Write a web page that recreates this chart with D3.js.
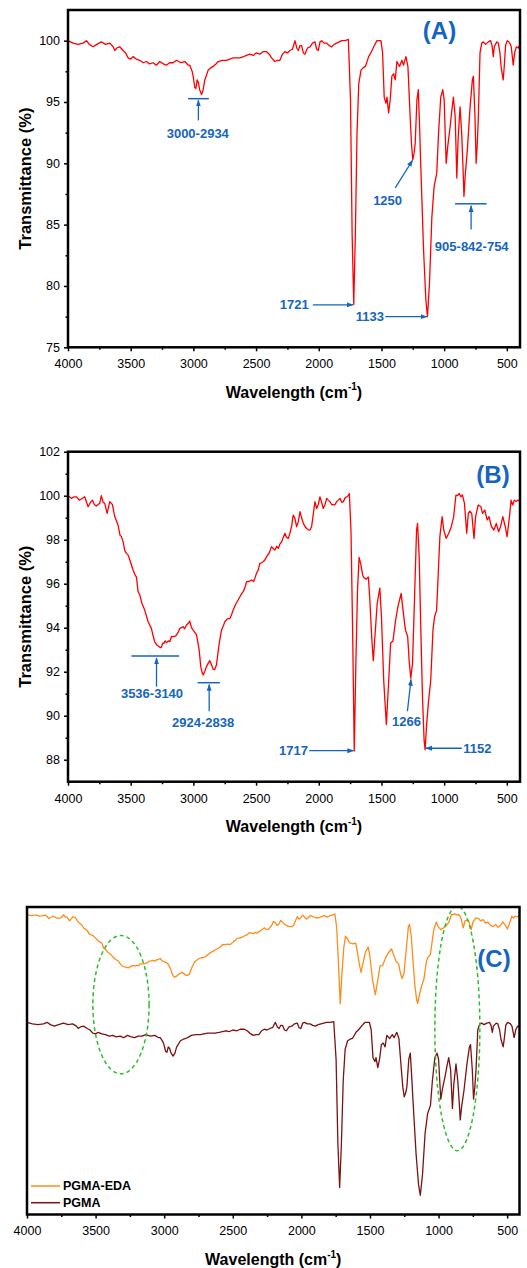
<!DOCTYPE html>
<html>
<head>
<meta charset="utf-8">
<script src="https://cdn.jsdelivr.net/npm/d3@7"></script>
<style>
  body { margin: 0; background: #fff; }
  text { font-family: "Liberation Sans", Arial, sans-serif; }
</style>
</head>
<body>
<div id="chart"></div>
<script>
// PGMA spectrum, [wavenumber cm-1, transmittance %]
var pgmaPoints = [
  [4000,100],[3960,99.8],[3920,99.7],[3880,99.8],[3853,100],[3830,99.7],[3800,99.5],[3770,99.7],
  [3734,99.9],[3700,99.7],[3667,99.8],[3640,99.5],[3627,99.2],[3610,99.4],[3588,99.5],[3561,99.2],
  [3540,99.0],[3521,98.6],[3500,98.5],[3481,98.7],[3455,98.5],[3428,98.4],[3400,98.2],[3375,98.3],
  [3350,98.1],[3321,98.2],[3295,98.0],[3268,98.3],[3240,98.1],[3215,98.0],[3190,98.2],[3162,98.2],
  [3135,98.4],[3100,98.2],[3068,98.3],[3040,98.0],[3029,98.0],[3010,97.5],[3002,97.1],[2989,96.2],
  [2980,96.1],[2970,96.8],[2960,96.6],[2950,96.0],[2935,95.6],[2922,96.0],[2909,96.8],[2895,97.2],
  [2882,97.6],[2860,97.8],[2842,97.9],[2820,98.1],[2802,98.3],[2770,98.4],[2736,98.4],[2710,98.5],
  [2683,98.6],[2655,98.6],[2629,98.6],[2600,98.7],[2576,98.8],[2550,98.9],[2523,98.8],[2500,99.0],
  [2470,98.9],[2445,99.1],[2416,99.1],[2395,98.9],[2377,98.6],[2350,98.3],[2330,98.4],[2310,98.4],
  [2290,98.9],[2270,99.1],[2250,99.0],[2230,99.2],[2210,99.3],[2190,100.0],[2175,99.4],[2163,99.2],
  [2150,99.6],[2137,99.6],[2123,99.0],[2110,98.9],[2090,99.4],[2070,99.5],[2050,99.8],[2030,99.9],
  [2017,99.3],[2004,99.2],[1990,99.9],[1977,100.0],[1957,99.8],[1937,99.8],[1917,99.6],[1897,99.5],
  [1877,99.7],[1857,99.8],[1837,99.9],[1817,100.0],[1790,100.0],[1764,100.1],[1747,95.2],[1734,84.3],
  [1721,78.5],[1708,84.3],[1695,92.4],[1681,96.5],[1663,97.6],[1645,97.8],[1628,97.9],[1602,98.7],
  [1580,99.1],[1562,99.5],[1536,100.0],[1504,100.0],[1491,99.0],[1478,95.4],[1464,94.9],[1456,95.4],
  [1443,94.1],[1430,95.2],[1417,97.1],[1403,97.3],[1390,96.8],[1377,98.3],[1356,97.9],[1337,98.4],
  [1324,98.0],[1305,98.7],[1289,97.9],[1271,93.8],[1260,91.5],[1250,90.3],[1240,90.8],[1231,91.6],
  [1217,95.2],[1206,96.0],[1196,93.0],[1186,89.7],[1164,82.9],[1146,78.9],[1133,77.5],[1117,80.2],
  [1098,85.6],[1080,88.1],[1059,89.2],[1045,92.4],[1027,95.4],[1011,96.0],[1000,95.2],[984,90.0],
  [971,91.4],[952,93.0],[939,94.3],[926,95.4],[912,93.8],[899,88.8],[889,91.9],[873,94.6],
  [860,92.4],[849,89.5],[842,87.3],[832,89.0],[815,91.1],[793,94.6],[775,96.8],[767,97.1],
  [754,93.8],[745,90.0],[736,91.5],[727,93.8],[714,99.0],[700,99.8],[687,99.9],[668,99.7],
  [648,99.9],[629,100.0],[618,99.6],[608,98.7],[600,99.5],[595,99.6],[580,99.9],[568,99.8],
  [555,99.0],[545,97.8],[529,96.8],[520,98.0],[510,99.6],[497,100.0],[485,99.9],[476,99.8],
  [465,99.5],[455,98.6],[449,98.0],[440,98.8],[436,99.1],[423,99.5],[410,99.4],[400,99.6],[395,99.5]
];

// PGMA-EDA spectrum, [wavenumber cm-1, transmittance %]
var edaPoints = [
  [4000,100],[3973,99.88],[3950,99.95],[3933,99.95],[3910,99.8],[3893,99.85],[3867,99.95],[3840,99.5],
  [3820,99.7],[3806,99.8],[3790,99.6],[3774,99.53],[3760,99.6],[3747,99.65],[3734,100.0],[3720,99.7],
  [3707,99.65],[3688,99.2],[3667,99.73],[3646,99.6],[3627,99.05],[3601,98.67],[3585,98.2],[3574,98.14],
  [3560,97.9],[3547,97.5],[3534,97.38],[3520,97.3],[3507,97.08],[3481,96.62],[3465,96.4],[3454,96.3],
  [3441,95.64],[3428,95.5],[3410,95.1],[3388,94.8],[3361,94.27],[3335,93.97],[3320,93.6],[3308,93.36],
  [3290,93.2],[3281,93.17],[3265,93.1],[3255,93.11],[3245,93.3],[3236,93.29],[3225,93.4],[3215,93.32],
  [3200,93.4],[3188,93.36],[3175,93.6],[3162,93.59],[3150,93.6],[3135,93.67],[3120,93.8],[3108,93.97],
  [3095,94.0],[3082,94.05],[3070,93.95],[3055,94.12],[3040,94.2],[3029,94.3],[3015,94.0],[3002,93.89],
  [2990,93.8],[2975,93.67],[2960,93.2],[2954,92.98],[2941,92.23],[2930,91.95],[2922,91.85],[2910,92.0],
  [2896,92.23],[2880,92.4],[2869,92.5],[2855,92.3],[2842,92.11],[2830,92.1],[2816,92.3],[2805,92.8],
  [2794,93.29],[2776,93.89],[2760,94.1],[2749,94.27],[2730,94.4],[2709,94.42],[2695,94.6],[2683,94.8],
  [2660,95.1],[2643,95.26],[2620,95.5],[2603,95.64],[2590,95.8],[2576,96.09],[2556,96.1],[2536,96.17],
  [2520,96.1],[2510,96.24],[2495,96.5],[2483,96.62],[2470,96.92],[2456,96.95],[2443,97.0],[2430,97.08],
  [2416,97.23],[2395,97.4],[2377,97.68],[2363,97.6],[2350,97.53],[2335,97.7],[2323,97.6],[2310,97.8],
  [2297,97.9],[2283,98.1],[2270,98.29],[2257,98.1],[2243,98.06],[2230,98.3],[2217,98.59],[2204,99.12],
  [2190,98.97],[2177,98.59],[2163,98.82],[2150,99.27],[2137,99.0],[2123,98.74],[2110,98.6],[2097,98.51],
  [2083,98.45],[2070,98.44],[2057,98.59],[2043,99.2],[2030,99.73],[2017,99.42],[2004,99.6],[1991,99.95],
  [1977,99.7],[1964,99.42],[1950,99.6],[1937,99.88],[1924,99.8],[1911,99.73],[1897,99.6],[1884,99.58],
  [1870,99.6],[1857,99.73],[1844,99.8],[1831,99.88],[1817,99.7],[1804,99.73],[1790,99.9],[1777,99.95],
  [1765,100.0],[1756,100.1],[1743,98.4],[1730,93.9],[1717,88.4],[1704,92.4],[1691,95.7],[1678,97.2],
  [1665,96.9],[1650,96.4],[1644,96.3],[1623,96.2],[1604,96.3],[1591,95.1],[1578,93.6],[1565,92.5],
  [1552,93.6],[1534,95.1],[1513,95.8],[1500,94.5],[1482,91.6],[1461,89.6],[1442,91.6],[1427,93.3],
  [1408,93.4],[1387,94.35],[1369,94.95],[1343,95.56],[1325,94.65],[1309,93.9],[1291,93.6],[1278,92.4],
  [1266,91.7],[1252,92.4],[1236,95.4],[1220,98.44],[1212,98.74],[1199,97.23],[1186,93.9],[1173,90.9],
  [1160,88.9],[1152,88.45],[1139,89.65],[1126,90.56],[1107,91.6],[1089,93.9],[1076,94.5],[1060,94.8],
  [1047,96.47],[1034,98.14],[1016,99.05],[1003,98.44],[984,98.06],[963,98.29],[943,98.59],[924,99.05],
  [906,100.03],[893,100.0],[880,100.1],[867,99.95],[854,100.03],[838,99.65],[820,98.29],[807,99.2],
  [795,99.3],[780,99.2],[762,98.06],[749,99.05],[728,99.58],[707,99.5],[694,99.2],[676,99.35],
  [657,98.9],[642,99.05],[623,98.6],[603,98.44],[584,98.74],[566,98.36],[550,98.59],[532,99.05],
  [513,98.6],[498,98.14],[479,99.05],[466,99.8],[453,99.58],[440,99.8],[427,99.73],[414,99.8],[400,99.75]
];

// vertical shift of PGMA-EDA in panel (C)
var edaOffset = 14;

var xTicks = [4000, 3500, 3000, 2500, 2000, 1500, 1000, 500];
var xMinor = [3750, 3250, 2750, 2250, 1750, 1250, 750];
var yTicksA = [75, 80, 85, 90, 95, 100];
var yMinorA = [77.5, 82.5, 87.5, 92.5, 97.5];
var yTicksB = [88, 90, 92, 94, 96, 98, 100, 102];
var yMinorB = [89, 91, 93, 95, 97, 99, 101];

var legendNames = ["PGMA-EDA", "PGMA"];

// band labels: text position, optional bar, arrow (from -> to), all in data units
var notesA = [
  {text: "3000-2934", tx: 2965, ty: 92.45, bar: [3042, 2877, 95.27], arrow: [2960, 93.5, 2960, 95.15]},
  {text: "1250", tx: 1451, ty: 86.95, arrow: [1390, 88.0, 1252, 90.25]},
  {text: "905-842-754", tx: 780, ty: 83.2, bar: [913, 661, 86.7], arrow: [785, 84.6, 785, 86.55]},
  {text: "1721", tx: 2195, ty: 78.46, arrow: [2047, 78.46, 1727, 78.46]},
  {text: "1133", tx: 1592, ty: 77.5, arrow: [1469, 77.5, 1138, 77.5]}
];
var notesB = [
  {text: "3536-3140", tx: 3330, ty: 91.02, bar: [3494, 3114, 92.71], arrow: [3294, 91.32, 3294, 92.62]},
  {text: "2924-2838", tx: 2922, ty: 89.7, bar: [2967, 2789, 91.5], arrow: [2874, 90.2, 2874, 91.42]},
  {text: "1717", tx: 2201, ty: 88.41, arrow: [2076, 88.41, 1722, 88.41]},
  {text: "1266", tx: 1300, ty: 89.72, arrow: [1293, 90.2, 1264, 91.65]},
  {text: "1152", tx: 735, ty: 88.52, arrow: [859, 88.52, 1146, 88.52]}
];

// dashed ellipses of panel (C): centre and radii in data units
var ellipseW = [3315, 863];
var ellipseT = [102.3, 99.2];
var ellipseRW = [205, 164];
var ellipseRT = [9, 15.9];

var svgWidth = 527, svgHeight = 1268;
var blue = "#1565c0";

var svg = d3.select("#chart")
  .append("svg")
    .attr("width", svgWidth)
    .attr("height", svgHeight);

var defs = svg.append("defs");
defs.append("marker")
    .attr("id", "arrowHead")
    .attr("viewBox", "0 0 10 10")
    .attr("refX", 9)
    .attr("refY", 5)
    .attr("markerUnits", "userSpaceOnUse")
    .attr("markerWidth", 7)
    .attr("markerHeight", 7)
    .attr("orient", "auto")
  .append("path")
    .attr("d", "M0,1.5 L10,5 L0,8.5 Z")
    .attr("fill", blue);

function drawPanel(p) {
  var w = p.right - p.left, h = p.bottom - p.top;
  var g = svg.append("g").attr("transform", "translate(" + p.left + "," + p.top + ")");

  var x = d3.scaleLinear().domain(p.xDomain).range([0, w]);
  var y = d3.scaleLinear().domain(p.yDomain).range([h, 0]);

  defs.append("clipPath").attr("id", "clip" + p.id)
    .append("rect").attr("width", w).attr("height", h);

  // bottom axis
  g.append("g")
    .attr("transform", "translate(0," + h + ")")
    .call(d3.axisBottom(x).tickValues(xTicks).tickSize(4).tickPadding(8).tickFormat(d3.format("d")))
    .call(function (a) { a.select(".domain").remove(); })
    .call(function (a) {
      a.selectAll("line").attr("stroke-width", 1.5);
      a.selectAll("text").attr("font-size", "12.5px").attr("fill", "#000");
    });
  g.append("g")
    .attr("transform", "translate(0," + h + ")")
    .call(d3.axisBottom(x).tickValues(xMinor).tickSize(2.5).tickFormat(""))
    .call(function (a) { a.select(".domain").remove(); a.selectAll("line").attr("stroke-width", 1.5); });

  g.append("text")
    .attr("x", w / 2)
    .attr("y", h + 45)
    .attr("dy", "0.35em")
    .attr("text-anchor", "middle")
    .attr("font-size", "16px")
    .attr("font-weight", "bold")
    .text("Wavelength (cm")
    .call(function (t) {
      t.append("tspan").attr("font-size", "10px").attr("dy", "-0.75em").text("-1");
      t.append("tspan").attr("font-size", "16px").attr("dy", "0.47em").text(")");
    });

  // left axis
  if (p.yTicks) {
    g.append("g")
      .call(d3.axisLeft(y).tickValues(p.yTicks).tickSize(4).tickPadding(4))
      .call(function (a) { a.select(".domain").remove(); })
      .call(function (a) {
        a.selectAll("line").attr("stroke-width", 1.5);
        a.selectAll("text").attr("font-size", "12.5px").attr("fill", "#000");
      });
    g.append("g")
      .call(d3.axisLeft(y).tickValues(p.yMinor).tickSize(2.5).tickFormat(""))
      .call(function (a) { a.select(".domain").remove(); a.selectAll("line").attr("stroke-width", 1.5); });

    g.append("text")
      .attr("transform", "translate(" + (25 - p.left) + "," + (h / 2) + ") rotate(-90)")
      .attr("dy", "0.35em")
      .attr("text-anchor", "middle")
      .attr("font-size", "16.5px")
      .attr("font-weight", "bold")
      .text("Transmittance (%)");
  }

  var line = d3.line()
    .x(function (d) { return x(d[0]); })
    .y(function (d) { return y(d[1]); });

  var plot = g.append("g").attr("clip-path", "url(#clip" + p.id + ")");
  p.series.forEach(function (s) {
    plot.append("path")
      .datum(s.points)
      .attr("fill", "none")
      .attr("stroke", s.color)
      .attr("stroke-width", 1.3)
      .attr("stroke-linejoin", "round")
      .attr("d", d3.line()
        .x(function (d) { return x(d[0]); })
        .y(function (d) { return y(d[1] + s.shift); }));
  });

  // annotations
  (p.notes || []).forEach(function (n) {
    if (n.bar) {
      g.append("line")
        .attr("x1", x(n.bar[0])).attr("x2", x(n.bar[1]))
        .attr("y1", y(n.bar[2])).attr("y2", y(n.bar[2]))
        .attr("stroke", blue).attr("stroke-width", 1.5);
    }
    g.append("line")
      .attr("x1", x(n.arrow[0])).attr("y1", y(n.arrow[1]))
      .attr("x2", x(n.arrow[2])).attr("y2", y(n.arrow[3]))
      .attr("stroke", blue).attr("stroke-width", 1.3)
      .attr("marker-end", "url(#arrowHead)");
    g.append("text")
      .attr("x", x(n.tx)).attr("y", y(n.ty))
      .attr("dy", "0.35em")
      .attr("text-anchor", "middle")
      .attr("font-size", "13px")
      .attr("font-weight", "bold")
      .attr("fill", blue)
      .text(n.text);
  });

  if (p.ellipses) {
    plot.selectAll("ellipse")
      .data(ellipseW)
      .enter().append("ellipse")
        .attr("cx", function (d) { return x(d); })
        .attr("cy", function (d, i) { return y(ellipseT[i]); })
        .attr("rx", function (d, i) { return Math.abs(x(d + ellipseRW[i]) - x(d)); })
        .attr("ry", function (d, i) { return Math.abs(y(ellipseT[i] + ellipseRT[i]) - y(ellipseT[i])); })
        .attr("fill", "none")
        .attr("stroke", "#2ebd2e")
        .attr("stroke-width", 1.5)
        .attr("stroke-dasharray", "4,3");
  }

  if (p.legend) {
    var lg = g.selectAll("g.legend")
      .data(p.series)
      .enter().append("g")
        .attr("class", "legend")
        .attr("transform", function (d, i) { return "translate(4," + (h - 28.5 + i * 16.7) + ")"; });
    lg.append("line")
      .attr("x1", 0).attr("x2", 29)
      .attr("stroke", function (d) { return d.color; })
      .attr("stroke-width", 1.5);
    lg.append("text")
      .attr("x", 32)
      .attr("dy", "0.35em")
      .attr("font-size", "12.5px")
      .attr("font-weight", "bold")
      .text(function (d, i) { return legendNames[i]; });
  }

  // frame
  g.append("rect")
    .attr("width", w).attr("height", h)
    .attr("fill", "none")
    .attr("stroke", "#000")
    .attr("stroke-width", 2.5);

  g.append("text")
    .attr("x", p.letterX)
    .attr("y", p.letterY)
    .attr("text-anchor", "middle")
    .attr("font-size", "24px")
    .attr("font-weight", "bold")
    .attr("fill", blue)
    .text(p.letter);
}

drawPanel({
  id: "A", left: 68, top: 10, right: 520, bottom: 347.3,
  xDomain: [4000, 395], yDomain: [75, 102.5],
  yTicks: yTicksA, yMinor: yMinorA,
  series: [{points: pgmaPoints, color: "#ff0000", shift: 0}],
  notes: notesA,
  letter: "(A)", letterX: 371.5, letterY: 29
});

drawPanel({
  id: "B", left: 68, top: 451.7, right: 520, bottom: 781.7,
  xDomain: [4000, 395], yDomain: [87, 102],
  yTicks: yTicksB, yMinor: yMinorB,
  series: [{points: edaPoints, color: "#ff0000", shift: 0}],
  notes: notesB,
  letter: "(B)", letterX: 425, letterY: 31.5
});

drawPanel({
  id: "C", left: 27, top: 907, right: 519.5, bottom: 1214.5,
  xDomain: [4000, 410], yDomain: [75, 115],
  series: [
    {points: edaPoints, color: "#ff8c1a", shift: edaOffset},
    {points: pgmaPoints, color: "#7b1111", shift: 0}
  ],
  ellipses: true,
  legend: true,
  letter: "(C)", letterX: 467, letterY: 59.5
});
</script>
</body>
</html>
